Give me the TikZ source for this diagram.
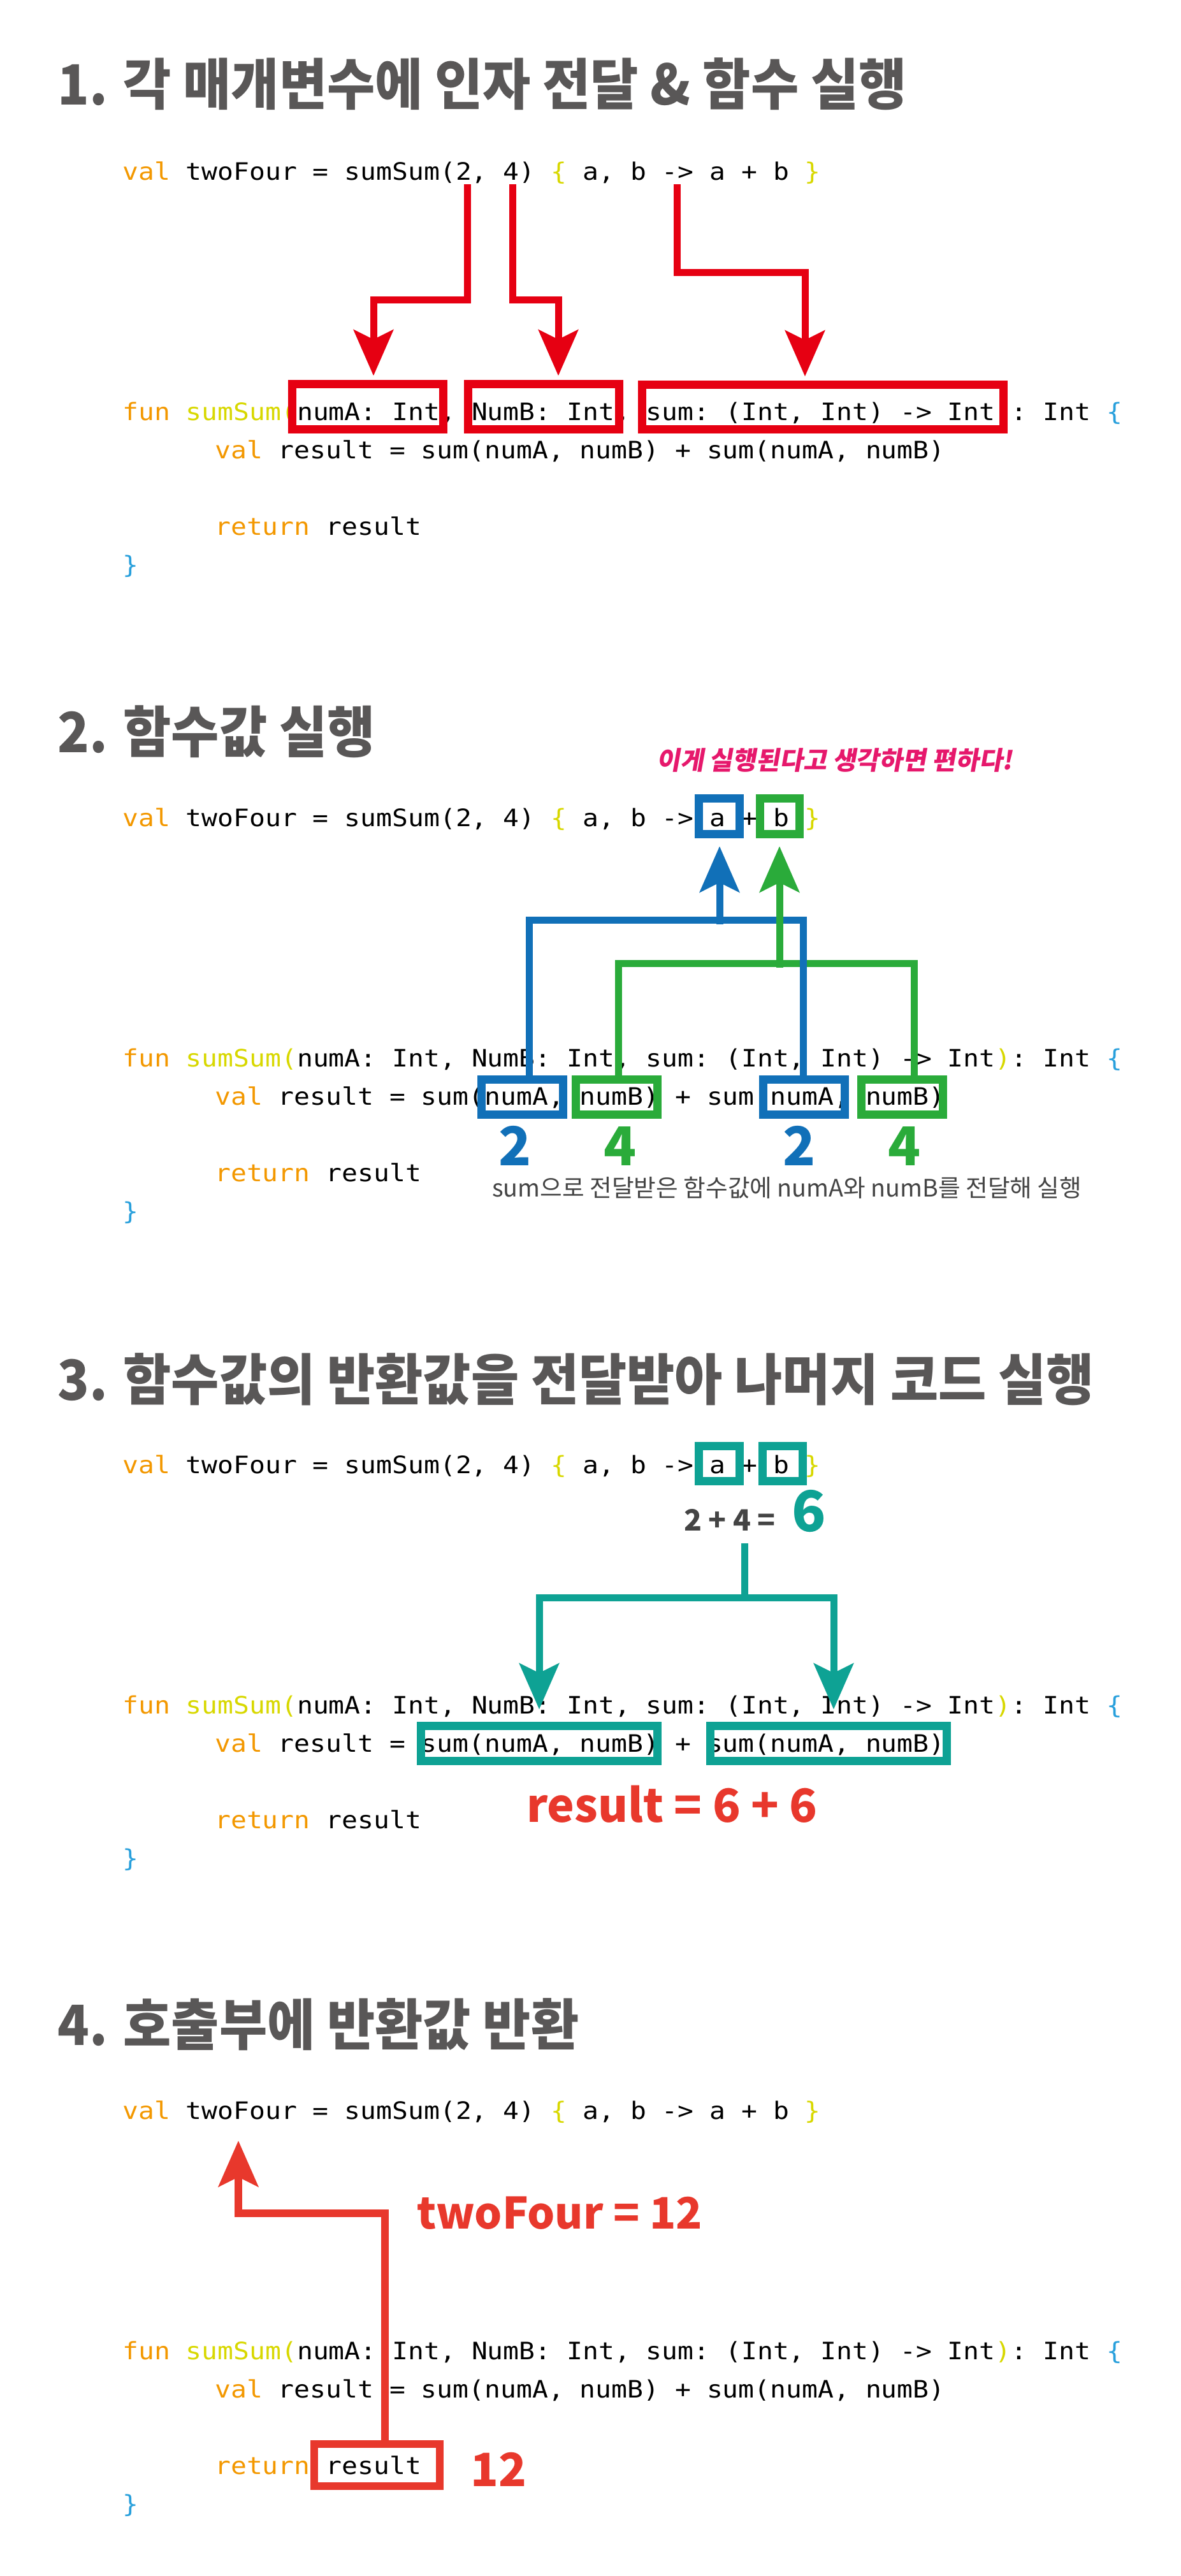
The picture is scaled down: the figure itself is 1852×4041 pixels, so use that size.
\documentclass[tikz,border=0pt]{standalone}
\usepackage{fontspec}
\usetikzlibrary{arrows.meta,calc}
\newfontfamily\codefont{DejaVu Sans Mono}[FakeStretch=1.1]
\newfontfamily\krfont{Noto Sans CJK KR}
\newfontfamily\krtitle{Noto Sans CJK KR}[FakeStretch=0.94]
\newfontfamily\krslant{Noto Sans CJK KR}[FakeSlant=0.18]
\definecolor{korange}{HTML}{F39800}
\definecolor{kyellow}{HTML}{D8D800}
\definecolor{kbrace}{HTML}{29A0DC}
\definecolor{ktitle}{HTML}{595757}
\definecolor{kredA}{HTML}{E60012}
\definecolor{kredB}{HTML}{E8382C}
\definecolor{kblue}{HTML}{1170B8}
\definecolor{kgreen}{HTML}{2AAB3A}
\definecolor{kteal}{HTML}{0EA294}
\definecolor{kpink}{HTML}{E6186C}
\definecolor{kdark}{HTML}{444444}
\newcommand\lineA{\textcolor{korange}{val} twoFour = sumSum(2, 4) \textcolor{kyellow}{\{} a, b -> a + b \textcolor{kyellow}{\}}}
\newcommand\lineF{\textcolor{korange}{fun} \textcolor{kyellow}{sumSum(}numA: Int, NumB: Int, sum: (Int, Int) -> Int\textcolor{kyellow}{)}: Int \textcolor{kbrace}{\{}}
\newcommand\lineV{\textcolor{korange}{val} result = sum(numA, numB) + sum(numA, numB)}
\newcommand\lineR{\textcolor{korange}{return} result}
\newcommand\lineE{\textcolor{kbrace}{\}}}
\newcommand\kcode[2]{%
  \node[codetxt] (cA#1) at (192,282+#2) {\lineA};
  \node[codetxt] (cF#1) at (192,659+#2) {\lineF};
  \node[codetxt] (cV#1) at (337,719+#2) {\lineV};
  \node[codetxt] (cR#1) at (337,839+#2) {\lineR};
  \node[codetxt] (cE#1) at (192,899+#2) {\lineE};
}
\begin{document}
\begin{tikzpicture}[x=1pt,y=-1pt,
  codetxt/.style={anchor=base west, inner sep=0pt, text=black, font=\codefont\fontsize{37.6}{40}\selectfont\frenchspacing},
  ttl/.style={anchor=base west, inner sep=0pt, text=ktitle, font=\krtitle\bfseries\fontsize{87}{90}\selectfont},
  bigtxt/.style={anchor=base west, inner sep=0pt, font=\krfont\bfseries\fontsize{72}{76}\selectfont},
  digit/.style={anchor=base, inner sep=0pt, font=\krfont\bfseries\fontsize{84}{88}\selectfont},
  hbox/.style={draw, line width=13pt, inner sep=0pt, fill=none},
  conn/.style={line width=11pt, line join=miter},
  tip/.style={-{Stealth[length=72pt,width=62pt,inset=15pt]}}]
\fill[white] (0,0) rectangle (1852,4041);

% ---------- titles ----------
\node[ttl] (t1) at (90,165) {1. 각 매개변수에 인자 전달 \& 함수 실행};
\node[ttl] (t2) at (90,1180) {2. 함수값 실행};
\node[ttl] (t3) at (90,2196) {3. 함수값의 반환값을 전달받아 나머지 코드 실행};
\node[ttl] (t4) at (90,3208) {4. 호출부에 반환값 반환};

% ---------- code ----------
\kcode{1}{0}
\kcode{2}{1014}
\kcode{3}{2029}
\kcode{4}{3042}

% ---------- section 1 ----------
\node[hbox, draw=kredA, minimum width=237pt, minimum height=71pt] (b1) at (577,638) {};
\node[hbox, draw=kredA, minimum width=237pt, minimum height=71pt] (b2) at (853,638) {};
\node[hbox, draw=kredA, minimum width=567pt, minimum height=70pt] (b3) at (1291,638.5) {};
\coordinate (s1a) at (733,289);
\coordinate (s1b) at (804,289);
\coordinate (s1c) at (1062,289);
\draw[conn, draw=kredA, tip] (s1a) -- ++(0,181) -| ($(b1.north)+(9,-6.5)$);
\draw[conn, draw=kredA, tip] (s1b) -- ++(0,181) -| ($(b2.north)+(23,-6.5)$);
\draw[conn, draw=kredA, tip] (s1c) -- ++(0,138) -| ($(b3.north)+(-28,-6.5)$);

% ---------- section 2 ----------
\node[anchor=base west, inner sep=0pt, text=kpink, font=\krslant\bfseries\fontsize{40}{44}\selectfont] (note) at (1030,1207) {이게 실행된다고 생각하면 편하다!};
\node[hbox, draw=kblue, minimum width=64pt, minimum height=56pt] (ba) at (1128.5,1280.5) {};
\node[hbox, draw=kgreen, minimum width=62pt, minimum height=56pt] (bb) at (1223.5,1280.5) {};
\node[hbox, draw=kblue, minimum width=128pt, minimum height=55pt] (bA1) at (819.5,1721) {};
\node[hbox, draw=kgreen, minimum width=128pt, minimum height=55pt] (bB1) at (967.5,1721) {};
\node[hbox, draw=kblue, minimum width=128pt, minimum height=55pt] (bA2) at (1261.5,1721) {};
\node[hbox, draw=kgreen, minimum width=128pt, minimum height=55pt] (bB2) at (1415.5,1721) {};
\draw[conn, draw=kgreen] ($(bB1.north)+(2.5,0)$) -- ++(0,-175.5) -| ($(bB2.north)+(18.5,0)$);
\draw[conn, draw=kblue] ($(bA1.north)+(10.5,0)$) -- ++(0,-243.5) -| ($(bA2.north)+(-1.5,0)$);
\coordinate (jg) at (1223,1518);
\coordinate (jb) at (1129,1450);
\draw[conn, draw=kgreen, tip] (jg) -- ($(bb.south)+(-0.5,12.5)$);
\draw[conn, draw=kblue, tip] (jb) -- ($(ba.south)+(0.5,12.5)$);
\node[digit, text=kblue] (n1) at (808,1828) {2};
\node[digit, text=kgreen] (n2) at (973,1828) {4};
\node[digit, text=kblue] (n3) at (1254,1828) {2};
\node[digit, text=kgreen] (n4) at (1419,1828) {4};
\node[anchor=base west, inner sep=0pt, text=kdark, font=\krfont\fontsize{37.7}{40}\selectfont] (ann) at (772,1877) {sum으로 전달받은 함수값에 numA와 numB를 전달해 실행};

% ---------- section 3 ----------
\node[hbox, draw=kteal, minimum width=64pt, minimum height=55pt] (ta) at (1128.5,2296) {};
\node[hbox, draw=kteal, minimum width=63pt, minimum height=55pt] (tb) at (1228,2296) {};
\node[anchor=base west, inner sep=0pt, text=kdark, font=\krfont\bfseries\fontsize{46}{50}\selectfont] (sum24) at (1073,2401) {2 + 4 =};
\node[anchor=base west, inner sep=0pt, text=kteal, font=\krfont\bfseries\fontsize{88}{92}\selectfont] (six) at (1242,2402) {6};
\node[hbox, draw=kteal, minimum width=371pt, minimum height=55pt] (tA) at (846,2735) {};
\node[hbox, draw=kteal, minimum width=371pt, minimum height=55pt] (tB) at (1300,2735) {};
\coordinate (s6) at (1168,2421);
\draw[conn, draw=kteal] (s6) -- ++(0,85) coordinate (j6);
\draw[conn, draw=kteal, tip] (j6) -| ($(tA.north)+(0,-19.5)$);
\draw[conn, draw=kteal, tip] (j6) -| ($(tB.north)+(8,-19.5)$);
\node[bigtxt, text=kredB] (res) at (826,2858) {result = 6 + 6};

% ---------- section 4 ----------
\node[hbox, draw=kredB, line width=12pt, minimum width=197pt, minimum height=66pt] (rb) at (591.5,3867) {};
\coordinate (tf) at (374,3358);
\draw[conn, line width=12pt, draw=kredB, tip] ($(rb.north)+(12.5,0)$) -- ++(0,-356) -| (tf);
\node[bigtxt, text=kredB, font=\krfont\bfseries\fontsize{68}{72}\selectfont] (tw) at (654,3496) {twoFour = 12};
\node[bigtxt, text=kredB] (twelve) at (738,3900) {12};
\end{tikzpicture}
\end{document}
